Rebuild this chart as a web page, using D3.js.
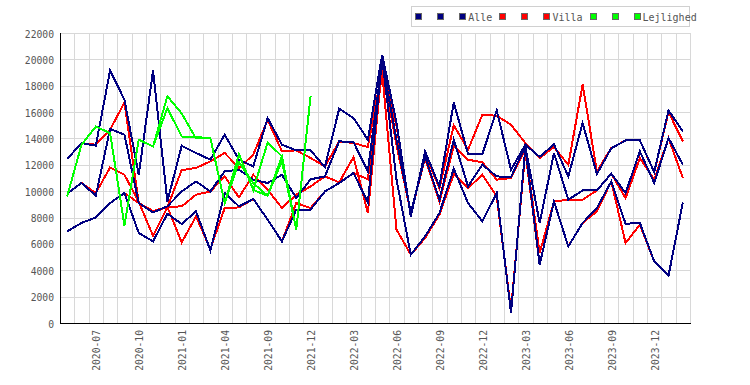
<!DOCTYPE html>
<html>
<head>
<meta charset="utf-8">
<script src="https://cdn.jsdelivr.net/npm/d3@7"></script>
<style>
  body { margin: 0; background: #fff; }
  svg { display: block; }
  text { font-family: "DejaVu Sans Mono", monospace; fill: #555; }
</style>
</head>
<body>
<div id="chart"></div>
<script>
// categories (months shown on the x axis, every third one is labelled)
const months = ["2020-05", "2020-06", "2020-07", "2020-08", "2020-09", "2020-10", "2020-11", "2020-12",
    "2021-01", "2021-02", "2021-03", "2021-04", "2021-05", "2021-06",
    "2021-09", "2021-10", "2021-11", "2021-12", "2022-01", "2022-02", "2022-03", "2022-04",
    "2022-05", "2022-06", "2022-07", "2022-08", "2022-09", "2022-10", "2022-11", "2022-12",
    "2023-01", "2023-02", "2023-03", "2023-04", "2023-05", "2023-06", "2023-07", "2023-08",
    "2023-09", "2023-10", "2023-11", "2023-12", "2024-01", "2024-02"];

// Alle (navy)
const alle1 = [12440, 13650, 13450, 19160, 16940, 11250, 19160, 9220, 13450, 12900, 12390, 14290, 12390, 11880,
    15550, 13530, 13100, 13100, 11830, 16260, 15550, 13900, 20350, 15200, 8090, 13020, 10360, 16730, 12820, 12820,
    16130, 11630, 13530, 12600, 13550, 11120, 15170, 11300, 13250, 13850, 13850, 11450, 16130, 14530];
const alle2 = [9810, 10620, 9660, 14720, 14290, 9100, 8390, 8850, 9980, 10740, 9980, 11500, 11630, 10870,
    10620, 11250, 9480, 10900, 11120, 13780, 13720, 11500, 19850, 13900, 8340, 12640, 9350, 13900, 10360, 12010,
    11120, 11080, 13400, 7590, 12900, 9350, 10060, 10060, 11330, 9860, 13020, 10620, 14030, 12010];
const alle3 = [6950, 7590, 8010, 9100, 9860, 6830, 6190, 8290, 7510, 8470, 5510, 9860, 8850, 9410,
    7840, 6190, 8600, 8600, 9980, 10620, 11380, 9150, 20100, 10900, 5180, 6570, 8340, 11700, 9100, 7710,
    9860, 760, 13300, 4420, 9220, 5810, 7590, 8720, 10740, 7530, 7590, 4670, 3590, 9150];

// Villa (red)
const villa1 = [12440, 13650, 13520, 14670, 16730, 9100, 8400, 8800, 11600, 11760, 12260, 12900, 11760, 12770,
    15420, 13020, 13100, 12520, 11880, 13780, 13650, 13350, 19220, 15000, 8090, 12900, 10200, 15000, 13150, 15800,
    15720, 15040, 13650, 12520, 13350, 12000, 18080, 11500, 13270, 13850, 13850, 11450, 16000, 13780];
const villa2 = [9810, 10620, 9860, 11800, 11250, 9200, 6600, 8800, 8850, 9730, 9980, 11120, 9530, 11250,
    10100, 8730, 9730, 10360, 11120, 10670, 12590, 8340, 19500, 13500, 8340, 12500, 9200, 13400, 12390, 12190,
    10870, 11000, 13150, 5310, 9220, 9350, 9350, 10060, 11330, 9480, 12520, 10870, 14030, 11000];
const villa3 = [6950, 7590, 8010, 9100, 9860, 9100, 8500, 8800, 6110, 8090, 5600, 8720, 8770, 9410,
    7840, 6190, 9100, 8720, 9980, 10620, 11380, 10900, 19000, 7080, 5180, 6450, 8220, 11300, 10240, 11250,
    9600, 1000, 13000, 4420, 9220, 5810, 7590, 8470, 10740, 6070, 7460, 4670, 3590, 9150];

// Lejlighed (green), only up to 2021-12
const lej1 = [9600, 13520, 14900, 14400, 7400, 13900, 13400, 17200, 15900, 14000, 14030, 9100, 12800, 10100,
    13700, 12640, 7080, 17190];
const lej2 = [9600, 13520, 14900, 14400, 7400, 13900, 13400, 16300, 14150, 14100, 14030, 9100, 12800, 10100,
    9650, 12640, 7080, 17190];
const lej3 = [9600, 13520, 14900, 14400, 7400, 13900, 13400, 16300, 14150, 14100, 14030, 9100, 12200, 10600,
    9650, 12300, 7080, 17190];

const yTicks = d3.range(0, 22001, 2000);
const legendLabels = ["", "", "Alle", "", "", "Villa", "", "", "Lejlighed"];

const W = 750, H = 385;
const plot = {left: 60, right: 690, top: 33, bottom: 323};
const navy = "#000080", red = "#ff0000", green = "#00ff00";

const svg = d3.select("#chart").append("svg")
    .attr("width", W)
    .attr("height", H);

const x = d3.scaleBand().domain(months).range([plot.left, plot.right]);
const y = d3.scaleLinear().domain([0, 22000]).range([plot.bottom, plot.top]);
const cx = m => x(m) + x.bandwidth() / 2;

// grid
const grid = svg.append("g").attr("stroke", "#d8d8d8").attr("stroke-width", 1);
grid.selectAll(".hg").data(yTicks).enter().append("line")
    .attr("x1", plot.left).attr("x2", plot.right)
    .attr("y1", d => Math.round(y(d)) + 0.5).attr("y2", d => Math.round(y(d)) + 0.5);
grid.selectAll(".vg").data(months.slice(1).map(m => x(m)).concat([plot.right])).enter().append("line")
    .attr("x1", d => Math.round(d) + 0.5).attr("x2", d => Math.round(d) + 0.5)
    .attr("y1", plot.top).attr("y2", plot.bottom);

// series
const line = d3.line()
    .defined(d => d != null)
    .x((d, i) => cx(months[i]))
    .y(d => y(d));

const series = [
    {data: villa1, color: red}, {data: villa2, color: red}, {data: villa3, color: red},
    {data: alle1, color: navy}, {data: alle2, color: navy}, {data: alle3, color: navy},
    {data: lej1, color: green}, {data: lej2, color: green}, {data: lej3, color: green}
];
svg.append("g").selectAll("path").data(series).enter().append("path")
    .attr("d", d => line(d.data))
    .attr("fill", "none")
    .attr("stroke", d => d.color)
    .attr("stroke-width", 2)
    .attr("stroke-linejoin", "miter")
    .attr("shape-rendering", "crispEdges");

// axes lines
svg.append("line").attr("x1", plot.left + 0.5).attr("x2", plot.left + 0.5)
    .attr("y1", plot.top).attr("y2", plot.bottom + 1).attr("stroke", "#000");
svg.append("line").attr("x1", plot.left).attr("x2", plot.right + 1)
    .attr("y1", plot.bottom + 0.5).attr("y2", plot.bottom + 0.5).attr("stroke", "#000");

// y labels
svg.append("g").selectAll("text").data(yTicks).enter().append("text")
    .attr("x", 54)
    .attr("y", d => y(d) + 1)
    .attr("text-anchor", "end")
    .attr("dominant-baseline", "central")
    .attr("font-size", 9.7)
    .text(d => d);

// x labels
svg.append("g").selectAll("text").data(months.filter((m, i) => (i - 2) % 3 === 0)).enter().append("text")
    .attr("transform", d => `translate(${cx(d) + 1}, 330) rotate(-90)`)
    .attr("text-anchor", "end")
    .attr("dominant-baseline", "central")
    .attr("font-size", 9.7)
    .text(d => d);

// legend
const legendColors = [navy, navy, navy, red, red, red, green, green, green];
const lg = svg.append("g");
lg.append("rect").attr("x", 411.5).attr("y", 6.5).attr("width", 278).attr("height", 20)
    .attr("fill", "#fff").attr("stroke", "#d0d0d0");
let mx = 418.3;
legendLabels.forEach((lab, i) => {
    lg.append("rect").attr("x", Math.round(mx - 3) + 0.5).attr("y", 13.5).attr("width", 6).attr("height", 6)
        .attr("fill", legendColors[i]).attr("stroke", "#666");
    const t = lg.append("text").attr("x", mx + 6).attr("y", 17).attr("dominant-baseline", "central")
        .attr("font-size", 10).text(lab);
    mx += lab ? 6 + t.node().getComputedTextLength() + 10 : 22;
});
</script>
</body>
</html>
